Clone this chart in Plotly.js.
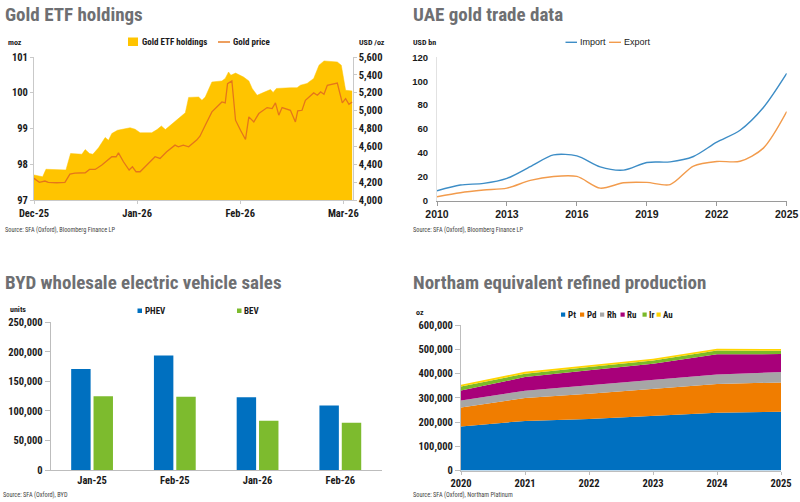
<!DOCTYPE html>
<html><head><meta charset="utf-8">
<script src="https://cdn.plot.ly/plotly-3.0.1.min.js"></script>
<style>html,body{margin:0;padding:0;background:#fff;}#chart{width:800px;height:502px;}</style>
</head><body><div id="chart"></div>
<script>
// ---------- Gold ETF holdings ----------
const goldTickIdx = [0, 31, 62, 93];
const goldTickLabels = ['Dec-25', 'Jan-26', 'Feb-26', 'Mar-26'];
const etfIdx = [0,1.3,2.6,3.6,8.8,9.6,11,14.4,15.4,16.7,17.7,19.4,21.4,22.4,23.4,25.1,28.9,30.4,31.9,35.4,37,38.3,39.5,41,43,44.5,45.5,46.5,49.5,50.5,51.5,53.5,56.5,57.5,58.5,59.2,60.6,63,64.6,65.6,67.1,68.6,71.1,71.9,72.9,77.1,79.1,80.1,82.1,84.1,85.7,87.2,91.2,92.4,93.7,95.7];
const etfVal = [97.70,97.67,97.65,97.86,97.86,97.84,98.30,98.28,98.41,98.30,98.28,98.46,98.75,98.67,98.86,98.95,99.02,98.98,98.88,98.88,98.97,99.07,98.97,99.09,99.25,99.37,99.44,99.87,99.88,99.79,99.88,100.30,100.33,100.40,100.58,100.49,100.55,100.44,100.33,100.12,99.93,99.99,100.09,100.01,100.12,100.14,100.14,100.21,100.26,100.40,100.77,100.89,100.86,100.77,100.07,100.05];
const priceIdx = [0,0.8,1.6,3.3,4.3,6.8,9.3,10.8,12.3,15.4,16.7,18.4,20.4,23.4,24.7,25.4,26.9,28.6,29.6,30.7,31.9,33.4,36.4,37.9,39.9,42.4,43.4,44.9,46.5,48.9,49.9,51.5,53.5,55.5,56.5,57.5,58.2,59.5,60.6,62.1,63.6,64.6,66.1,67.6,70.1,71.6,72.6,73.6,74.6,77.1,78.6,79.3,80.6,81.6,84.1,85.2,86.2,87.2,88.2,91.2,92.7,93.7,94.7,95.7];
const priceVal = [4242,4223,4197,4212,4197,4193,4197,4290,4300,4305,4342,4342,4391,4484,4484,4528,4428,4335,4372,4316,4316,4372,4484,4465,4540,4614,4595,4614,4595,4670,4714,4837,4986,5060,5097,5086,5302,5332,4893,4781,4677,4930,4874,4967,5034,5023,5086,4949,5034,5004,4874,4997,5004,5116,5198,5172,5209,5183,5283,5309,5086,5135,5071,5097];

// ---------- UAE gold trade data ----------
const uaeYears = [2010,2011,2012,2013,2014,2015,2016,2017,2018,2019,2020,2021,2022,2023,2024,2025];
const uaeImport = [8.3,13.1,14.5,18.7,28.5,38.3,37.5,28.3,25.6,32.0,32.5,37.0,49.0,59.0,78.0,106.5];
const uaeExport = [3.3,6.7,8.9,10.5,17.0,20.3,20.3,10.5,15.0,15.3,13.5,29.0,32.8,33.0,44.0,74.5];

// ---------- BYD wholesale EV sales ----------
const bydMonths = ['Jan-25', 'Feb-25', 'Jan-26', 'Feb-26'];
const bydPHEV = [171000, 194000, 123000, 109000];
const bydBEV = [125000, 124000, 83500, 80000];

// ---------- Northam equivalent refined production ----------
const nYears = [2020, 2021, 2022, 2023, 2024, 2025];
const nNames = ['Pt', 'Pd', 'Rh', 'Ru', 'Ir', 'Au'];
const nPt = [182000, 205000, 213000, 226000, 239000, 243000];
const nPd = [78000, 95000, 104000, 110000, 118000, 121000];
const nRh = [29000, 30000, 35000, 37000, 40000, 43000];
const nRu = [42000, 56000, 62000, 68000, 83000, 74000];
const nIr = [16000, 14000, 14000, 14000, 16000, 14000];
const nAu = [7000, 8000, 7000, 7000, 7000, 7000];

// ---------- styling ----------
const W = 800, H = 502;
const px = v => v / W;
const py = v => 1 - v / H;
const NARROW = "'Roboto Condensed', 'Liberation Sans', sans-serif";
const ARIAL = "'Liberation Sans', Arial, sans-serif";
const col = {
  etf: '#FFC400', price: '#E5761A',
  imp: '#3D8DC6', exp: '#F29B4C',
  phev: '#0070C0', bev: '#7DBB2E',
  n: ['#0070C0', '#F07D00', '#A6A6A6', '#A8007A', '#7AB929', '#FFD500']
};
const tickFont = {family: NARROW, size: 10.5, color: '#1a1a1a', weight: 'bold'};
const baseAxis = {
  showgrid: false, zeroline: false, showline: true, linecolor: '#c9c9c9', linewidth: 1,
  ticks: 'outside', ticklen: 3, tickcolor: '#c9c9c9', tickfont: tickFont, fixedrange: true
};
const ax = o => Object.assign({}, baseAxis, o);

const nSeries = [nPt, nPd, nRh, nRu, nIr, nAu];

const traces = [
  {x: etfIdx, y: etfVal, xaxis: 'x', yaxis: 'y', type: 'scatter', mode: 'lines',
   fill: 'tozeroy', fillcolor: col.etf, line: {color: col.etf, width: 0.5}, name: 'Gold ETF holdings', showlegend: false},
  {x: priceIdx, y: priceVal, xaxis: 'x', yaxis: 'y2', type: 'scatter', mode: 'lines',
   line: {color: col.price, width: 1.3}, name: 'Gold price', showlegend: false},
  {x: uaeYears, y: uaeImport, xaxis: 'x2', yaxis: 'y3', type: 'scatter', mode: 'lines',
   line: {color: col.imp, width: 1.4, shape: 'spline', smoothing: 0.8}, name: 'Import', showlegend: false},
  {x: uaeYears, y: uaeExport, xaxis: 'x2', yaxis: 'y3', type: 'scatter', mode: 'lines',
   line: {color: col.exp, width: 1.4, shape: 'spline', smoothing: 0.8}, name: 'Export', showlegend: false},
  {x: bydMonths, y: bydPHEV, xaxis: 'x3', yaxis: 'y4', type: 'bar', marker: {color: col.phev}, name: 'PHEV', showlegend: false},
  {x: bydMonths, y: bydBEV, xaxis: 'x3', yaxis: 'y4', type: 'bar', marker: {color: col.bev}, name: 'BEV', showlegend: false}
];
nSeries.forEach((s, i) => traces.push({
  x: nYears, y: s, xaxis: 'x4', yaxis: 'y5', type: 'scatter', mode: 'lines', stackgroup: 'n',
  fillcolor: col.n[i], line: {width: 0, color: col.n[i]}, name: nNames[i], showlegend: false
}));

// ---------- annotations & legend glyphs ----------
const ann = [];
const shapes = [];
function txt(t, x, y, size, opts) {
  ann.push(Object.assign({
    text: t, xref: 'paper', yref: 'paper', x: px(x), y: py(y), xanchor: 'left', yanchor: 'middle',
    showarrow: false, font: {family: NARROW, size: size, color: '#1a1a1a', weight: 'bold'}
  }, opts || {}));
}
function title(t, x, y) {
  txt(t, x, y, 19, {font: {family: NARROW, size: 19, color: '#6e6f72', weight: 'bold'}});
}
function srcNote(t, x, y) {
  txt(t, x, y, 6.3, {font: {family: NARROW, size: 6.3, color: '#444'}});
}
function legRect(x0, x1, y0, y1, c) {
  shapes.push({type: 'rect', xref: 'paper', yref: 'paper', x0: px(x0), x1: px(x1), y0: py(y1), y1: py(y0),
    fillcolor: c, line: {width: 0}});
}
function legLine(x0, x1, y, c) {
  shapes.push({type: 'line', xref: 'paper', yref: 'paper', x0: px(x0), x1: px(x1), y0: py(y), y1: py(y),
    line: {color: c, width: 1.4}});
}

// titles
title('Gold ETF holdings', 3, 14.5);
title('UAE gold trade data', 411, 14.5);
title('BYD wholesale electric vehicle sales', 3, 282.5);
title('Northam equivalent refined production', 411, 282.5);

// unit labels
txt('moz', 6, 42, 8);
txt('USD /oz', 357, 42, 8);
txt('USD bn', 411, 42, 8);
txt('units', 8, 309, 8);
txt('oz', 414, 312.5, 8);

// legends
legRect(128, 138, 37.5, 46, col.etf);
txt(traces[0].name, 140, 42, 9);
legLine(218, 230, 42, col.price);
txt(traces[1].name, 230.5, 42, 9);

legLine(565.5, 577, 42.3, col.imp);
txt(traces[2].name, 578, 42.3, 9, {font: {family: ARIAL, size: 9, color: '#1a1a1a'}});
legLine(609, 621, 42.3, col.exp);
txt(traces[3].name, 621.5, 42.3, 9, {font: {family: ARIAL, size: 9, color: '#1a1a1a'}});

legRect(137.5, 142, 308.5, 313, col.phev);
txt(traces[4].name, 142.5, 311, 9);
legRect(237, 241.5, 308.5, 313, col.bev);
txt(traces[5].name, 242, 311, 9);

const nLegX = [561, 580, 600, 620.5, 642.5, 656.5];
nNames.forEach((n, i) => {
  legRect(nLegX[i], nLegX[i] + 4.2, 312.5, 316.7, col.n[i]);
  txt(n, nLegX[i] + 4.8, 314.6, 9);
});

// sources
srcNote('Source: SFA (Oxford), Bloomberg Finance LP', 3, 229.5);
srcNote('Source: SFA (Oxford), Bloomberg Finance LP', 411, 229.5);
srcNote('Source: SFA (Oxford), BYD', 1, 494.5);
srcNote('Source: SFA (Oxford), Northam Platinum', 411, 494.5);

const layout = {
  width: W, height: H,
  margin: {l: 0, r: 0, t: 0, b: 0, pad: 0},
  paper_bgcolor: '#fff', plot_bgcolor: 'rgba(0,0,0,0)',
  showlegend: false,
  barmode: 'group', bargap: 0.46, bargroupgap: 0.13,
  // Gold
  xaxis: ax({domain: [px(34), px(352.6)], anchor: 'y', range: [0, 95.8],
    tickmode: 'array', tickvals: goldTickIdx, ticktext: goldTickLabels}),
  yaxis: ax({domain: [py(200), py(57)], anchor: 'x', range: [97, 101], dtick: 1, tick0: 97}),
  yaxis2: ax({domain: [py(200), py(57)], anchor: 'x', overlaying: 'y', side: 'right',
    range: [4000, 5600], dtick: 200, tick0: 4000, tickformat: ',d'}),
  // UAE
  xaxis2: ax({domain: [px(437), px(786.7)], anchor: 'y3', range: [2010, 2025], dtick: 3, tick0: 2010,
    linecolor: '#9a9a9a', tickcolor: '#9a9a9a', ticklen: 4,
    tickfont: {family: ARIAL, size: 10.5, color: '#1a1a1a', weight: 'bold'}}),
  yaxis3: ax({domain: [py(200.7), py(57.3)], anchor: 'x2', range: [0, 120], dtick: 20,
    linecolor: '#e2e2e2', tickcolor: 'rgba(0,0,0,0)', ticklen: 6,
    tickfont: {family: ARIAL, size: 9.5, color: '#1a1a1a', weight: 'bold'}}),
  // BYD
  xaxis3: ax({domain: [px(50.7), px(381.7)], anchor: 'y4', ticks: '', type: 'category',
    linecolor: '#bdbdbd'}),
  yaxis4: ax({domain: [py(470), py(322.3)], anchor: 'x3', range: [0, 250000], dtick: 50000,
    tickformat: ',d', ticklen: 5, linecolor: '#bdbdbd', tickcolor: '#bdbdbd'}),
  // Northam
  xaxis4: ax({domain: [px(461), px(781)], anchor: 'y5', range: [2020, 2025], dtick: 1,
    linecolor: '#bdbdbd', tickcolor: '#bdbdbd'}),
  yaxis5: ax({domain: [py(470.5), py(325.3)], anchor: 'x4', range: [0, 600000], dtick: 100000,
    tickformat: ',d', ticklen: 5, linecolor: '#bdbdbd', tickcolor: '#bdbdbd'}),
  annotations: ann,
  shapes: shapes
};

Plotly.newPlot('chart', traces, layout, {displayModeBar: false, staticPlot: true});
</script>
</body></html>
